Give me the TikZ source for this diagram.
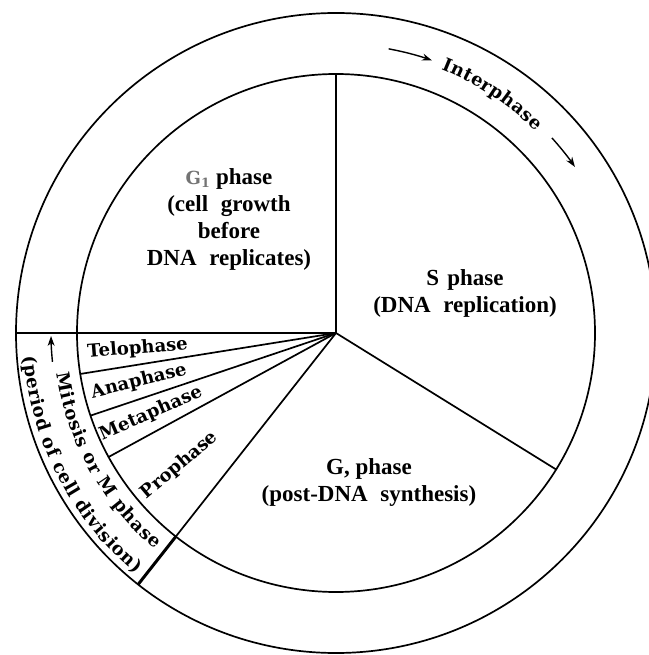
\documentclass[tikz,border=0pt]{standalone}
\usepackage{fontspec}
\setmainfont{Liberation Serif}
\newfontfamily\bookfont{DejaVu Serif}
\usetikzlibrary{arrows.meta, decorations.text}

\newcommand\phasefont{\bfseries\fontsize{23}{27}\selectfont}
\newcommand\stagefont{\bookfont\bfseries\fontsize{18}{20}\selectfont}
\newcommand\gap{\hspace{0.55em}}

\begin{document}
\begin{tikzpicture}[
    x=1pt, y=1pt,
    ring/.style={line width=1.7pt},
    border/.style={line width=3pt},
    phase/.style={font=\phasefont, align=center},
    stage/.style={font=\stagefont, inner sep=0pt},
    arrow/.style={-{Stealth[length=10pt, width=7pt]}, line width=1.4pt},
    curved/.style={decorate, decoration={text along path, text align={fit to path}}}
]
\fill[white] (-336,-322) rectangle (312,333);
\useasboundingbox (-336,-322) rectangle (312,333);

\coordinate (hub) at (0,0);

% rings
\draw[ring] (hub) circle[radius=259];
\draw[ring] (hub) circle[radius=320];

% sector lines
\draw[ring] (hub) -- (90:259);
\draw[ring] (hub) -- (-31.8:259);
\draw[ring] (hub) -- (231.8:259);
\foreach \a in {189.1, 198.6, 208.6}
  \draw[ring] (hub) -- (\a:259);

% edges of the mitosis band
\draw[ring, line width=2.6pt] (hub) -- (180:320);
\draw[border] (231.8:259) -- (231.8:320);

% phases
\node[phase] (g1) at (-107,114) {{\color{black!55}\stagefont G\textsubscript{1}} phase\\(cell\gap growth\\before\\DNA\gap replicates)};
\node[phase] (s) at (129,40) {S\hspace{.35em}phase\\(DNA\gap replication)};
\node[phase] (g2) at (33,-150) {G, phase\\(post-DNA\gap synthesis)};

% stages of mitosis
\foreach \a/\r/\name in {184.55/199/Telophase, 193.85/203/Anaphase, 203.6/202/Metaphase, 220.2/205/Prophase}
  \node[stage, rotate=\a-180] (\name) at (\a:\r) {\name};

% band labels
\draw[arrow] (79.5:289) arc[start angle=79.5, end angle=70.6, radius=289];
\path[curved, decoration={text={|\stagefont|Interphase}}]
  (68.3:284) arc[start angle=68.3, end angle=45.2, radius=284];
\draw[arrow] (42.1:291) arc[start angle=42.1, end angle=34.8, radius=291];

\draw[arrow] (185.8:285) arc[start angle=185.8, end angle=180.6, radius=285];
\path[curved, decoration={text={|\stagefont|Mitosis or M phase}}]
  (188.3:282) arc[start angle=188.3, end angle=230, radius=282];
\path[curved, decoration={text={|\stagefont|(period of cell division)}}]
  (184.3:313) arc[start angle=184.3, end angle=230.2, radius=313];
\end{tikzpicture}
\end{document}
